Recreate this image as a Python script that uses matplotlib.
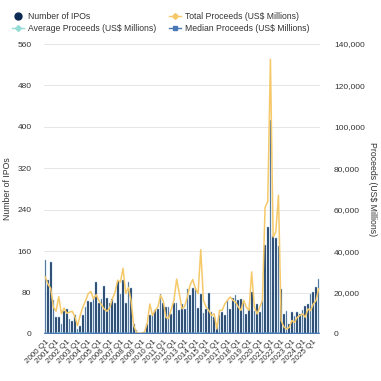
import matplotlib
matplotlib.use("Agg")
import matplotlib.pyplot as plt
import numpy as np
from matplotlib.lines import Line2D

plt.rcParams['font.family'] = ['Liberation Sans', 'DejaVu Sans']

years = list(range(2000, 2026))
quarters = [f"{y} Q{q}" for y in years for q in range(1, 5)][:103]

num_ipos = [143, 105, 140, 66, 33, 33, 20, 44, 49, 29, 26, 37, 10, 16, 36, 53,
            63, 62, 72, 101, 59, 68, 92, 70, 60, 68, 60, 102, 77, 104, 59, 100,
            88, 20, 8, 2, 2, 3, 20, 36, 39, 46, 49, 77, 59, 52, 52, 39,
            59, 59, 46, 58, 48, 86, 75, 88, 88, 50, 77, 40, 49, 79, 42, 32,
            13, 36, 42, 36, 65, 49, 70, 75, 66, 68, 63, 39, 49, 81, 45, 58,
            42, 65, 171, 206, 413, 190, 186, 170, 87, 39, 45, 19, 42, 35, 42, 39,
            46, 55, 58, 77, 81, 90, 106]

total_proceeds = [27500, 24000, 22000, 13000, 11000, 18000, 9750, 12500, 10000, 10500, 11000, 8500, 4000, 9000, 13000, 16000,
                  19500, 20500, 17000, 19000, 16000, 14000, 12000, 11000, 12500, 17000, 20000, 26000, 25000, 31700, 19500, 22500,
                  16000, 4000, 800, 200, 400, 1000, 5000, 14500, 9000, 11500, 13000, 18700, 16000, 8000, 7500, 12000,
                  16200, 26500, 19500, 12200, 13300, 18000, 23600, 26300, 22000, 19500, 40700, 16300, 13000, 11400, 9000, 9750,
                  2400, 11400, 11400, 14600, 16300, 17900, 16300, 15400, 13000, 11400, 16300, 13000, 11400, 30000, 13000, 9700,
                  12900, 16100, 61000, 64000, 132600, 46800, 49200, 67000, 6500, 3500, 2400, 3200, 6500, 5600, 8100, 8900,
                  9700, 8100, 12100, 11300, 14500, 16100, 21800]

median_proceeds = [120, 100, 90, 80, 75, 80, 85, 90, 100, 110, 110, 120, 120, 130, 130, 140,
                   150, 150, 140, 140, 130, 130, 120, 130, 130, 140, 150, 160, 170, 180, 160, 150,
                   140, 120, 100, 50, 60, 80, 100, 110, 110, 120, 120, 130, 130, 110, 100, 110,
                   120, 130, 120, 110, 120, 120, 130, 130, 120, 110, 120, 110, 100, 100, 90, 90,
                   80, 100, 110, 120, 120, 130, 130, 140, 140, 140, 150, 130, 120, 150, 120, 110,
                   120, 130, 200, 210, 230, 200, 190, 180, 100, 60, 50, 40, 60, 50, 60, 60,
                   70, 60, 80, 80, 90, 100, 110]

average_proceeds = [t / n for t, n in zip(total_proceeds, num_ipos)]

NAVY = '#0c2a52'
LIGHTBAR = '#a8cbe8'
YELLOW = '#f5c96a'
TEAL = '#93dcd6'
BLUE = '#4a78b4'
TXT = '#333333'
GRID = '#e6e6e6'

fig = plt.figure(figsize=(3.81, 3.81), dpi=100)
ax = fig.add_axes([44/381, 1-334/381, 276/381, 290/381])
ax2 = ax.twinx()

x = np.arange(len(quarters))
ax.bar(x, num_ipos, width=0.62, color=NAVY, edgecolor=LIGHTBAR, linewidth=0.35, zorder=2)
ax.set_ylim(0, 560)
ax.set_yticks(np.arange(0, 561, 80))
ax.set_xlim(-0.5, len(quarters) - 0.5)
ax.yaxis.grid(True, color=GRID, linewidth=0.7, zorder=0)
ax.set_axisbelow(True)

ax2.plot(x, total_proceeds, color=YELLOW, linewidth=1.1, zorder=3)
ax2.plot(x, average_proceeds, color=TEAL, linewidth=1.0, zorder=3)
ax2.plot(x, median_proceeds, color=BLUE, linewidth=1.6, zorder=4)
ax2.set_ylim(0, 140000)
ax2.set_yticks(np.arange(0, 140001, 20000))
ax2.set_yticklabels([f"{v:,}" for v in range(0, 140001, 20000)])

ax.set_zorder(ax2.get_zorder() - 1)
ax.patch.set_visible(False)
ax2.patch.set_visible(False)

xt = x[::4]
ax.set_xticks(xt)
ax.set_xticklabels([quarters[i] for i in xt], rotation=45, ha='right', rotation_mode='anchor')

for a in (ax, ax2):
    for s in a.spines.values():
        s.set_visible(False)
ax.tick_params(axis='both', length=0, labelsize=6, colors=TXT)
ax.tick_params(axis='y', pad=9)
ax.tick_params(axis='x', pad=3, labelsize=5.8)
ax2.tick_params(axis='y', length=0, labelsize=6, colors=TXT, pad=10)

ax.set_ylabel("Number of IPOs", fontsize=6.3, color=TXT, labelpad=4)
ax2.set_ylabel("Proceeds (US$ Millions)", fontsize=6.3, color=TXT, rotation=270, labelpad=9)

handles = [
    Line2D([], [], color=NAVY, marker='o', linestyle='none', markersize=5),
    Line2D([], [], color=TEAL, marker='D', markersize=3, linewidth=1.0),
    Line2D([], [], color=YELLOW, marker='D', markersize=3, linewidth=1.0),
    Line2D([], [], color=BLUE, marker='s', markersize=3, linewidth=1.0),
]
labels = ["Number of IPOs", "Average Proceeds (US$ Millions)",
          "Total Proceeds (US$ Millions)", "Median Proceeds (US$ Millions)"]
fig.legend(handles, labels, loc='upper left', bbox_to_anchor=(0.01, 0.99), ncol=2,
           frameon=False, fontsize=6.2, labelcolor=TXT, handlelength=1.4,
           columnspacing=1.5, handletextpad=0.5, labelspacing=0.35)

fig.savefig("out.png", dpi=100)
